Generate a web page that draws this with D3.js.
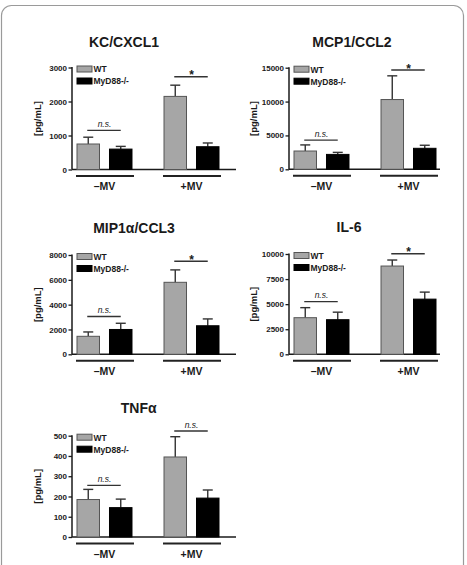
<!DOCTYPE html>
<html>
<head>
<meta charset="utf-8">
<script src="https://cdn.jsdelivr.net/npm/d3@7"></script>
<style>
  html, body { margin: 0; padding: 0; background: #fff; }
  svg { display: block; }
  text { font-family: "Liberation Sans", Arial, sans-serif; }
</style>
</head>
<body>
<script>
// ---------------- DATA ----------------
const groups = ["\u2013MV", "+MV"];
const series = ["WT", "MyD88-/-"];
const titles = ["KC/CXCL1", "MCP1/CCL2", "MIP1\u03B1/CCL3", "IL-6", "TNF\u03B1"];
const yLabel = "[pg/mL]";
// means per panel: [–MV, +MV]
const wtMean = [[750, 2150], [2700, 10300], [1450, 5800], [3650, 8800], [185, 395]];
const wtErr  = [[200, 330],  [900, 3500],   [350, 1000],  [1000, 600],  [50, 100]];
const koMean = [[600, 670],  [2200, 3100],  [2000, 2300], [3450, 5500], [145, 192]];
const koErr  = [[80, 110],   [300, 450],    [500, 550],   [750, 700],   [42, 40]];
const yTicks = [
  [0, 1000, 2000, 3000],
  [0, 5000, 10000, 15000],
  [0, 2000, 4000, 6000, 8000],
  [0, 2500, 5000, 7500, 10000],
  [0, 100, 200, 300, 400, 500]
];
const sigLabels = [["n.s.", "*"], ["n.s.", "*"], ["n.s.", "*"], ["n.s.", "*"], ["n.s.", "n.s."]];
const sigLevel  = [[1150, 2730], [4300, 14650], [3050, 7500], [5250, 10030], [255, 523]];

// ---------------- LAYOUT ----------------
const W = 467, H = 565;
const panels = [
  { ax: 72,  base: 169.5, top: 67.5,  xEnd: 236, tx: 124,   ty: 46.5, lx: 37 },
  { ax: 289, base: 169.3, top: 67.7,  xEnd: 440, tx: 352,   ty: 46.5, lx: 253 },
  { ax: 72,  base: 354.3, top: 255,   xEnd: 236, tx: 134,   ty: 233,  lx: 37 },
  { ax: 289, base: 354.3, top: 254,   xEnd: 440, tx: 349,   ty: 232,  lx: 253 },
  { ax: 72,  base: 537,   top: 435.7, xEnd: 236, tx: 138.7, ty: 412.7, lx: 37 }
];
const wtFill = "#a6a6a6", wtStroke = "#555", koFill = "#000";
const ink = "#1a1a1a";

const svg = d3.select("body").append("svg").attr("width", W).attr("height", H);

// frame
svg.append("rect")
  .attr("x", 1.5).attr("y", 5.5).attr("width", 462).attr("height", 620)
  .attr("rx", 10).attr("fill", "none").attr("stroke", "#9a9a9a").attr("stroke-width", 1.2);

panels.forEach((p, i) => {
  const g = svg.append("g");
  const yMax = yTicks[i][yTicks[i].length - 1];
  const y = d3.scaleLinear().domain([0, yMax]).range([p.base, p.top]);
  const x0 = d3.scaleBand().domain(groups).range([p.ax + 5, p.ax + 147]).paddingInner(0.368).paddingOuter(0);
  const x1 = d3.scaleBand().domain(series).range([0, x0.bandwidth()]).paddingInner(0.3077).paddingOuter(0);

  // title
  g.append("text").attr("x", p.tx).attr("y", p.ty).attr("text-anchor", "middle")
    .attr("font-size", 14).attr("font-weight", "bold").attr("fill", ink).text(titles[i]);

  // y label
  g.append("text")
    .attr("transform", `translate(${p.lx},${(p.base + p.top) / 2}) rotate(-90)`)
    .attr("text-anchor", "middle").attr("dominant-baseline", "central")
    .attr("font-size", 9.5).attr("font-weight", "bold").attr("fill", ink).text(yLabel);

  // y axis
  const yAxis = d3.axisLeft(y).tickValues(yTicks[i]).tickSize(3.5).tickPadding(1.5).tickFormat(d3.format("d"));
  const ga = g.append("g").attr("transform", `translate(${p.ax},0)`).call(yAxis);
  ga.select(".domain").attr("stroke", ink).attr("stroke-width", 1.5)
    .attr("d", `M0,${p.base}V${p.top - 0.5}`);
  ga.selectAll(".tick line").attr("stroke", ink).attr("stroke-width", 1.3);
  ga.selectAll(".tick text").attr("font-size", 8).attr("font-weight", "bold").attr("fill", ink)
    .attr("font-family", "Liberation Sans, Arial, sans-serif");

  // x baseline
  g.append("line").attr("x1", p.ax).attr("x2", p.xEnd).attr("y1", p.base).attr("y2", p.base)
    .attr("stroke", ink).attr("stroke-width", 1.5);

  // bars
  const rows = [];
  groups.forEach((grp, gi) => {
    rows.push({ grp, s: series[0], v: wtMean[i][gi], e: wtErr[i][gi] });
    rows.push({ grp, s: series[1], v: koMean[i][gi], e: koErr[i][gi] });
  });

  // error bars (upper only)
  rows.forEach(r => {
    const cx = x0(r.grp) + x1(r.s) + x1.bandwidth() / 2;
    g.append("line").attr("x1", cx).attr("x2", cx).attr("y1", y(r.v)).attr("y2", y(r.v + r.e))
      .attr("stroke", "#333").attr("stroke-width", 1.4);
    g.append("line").attr("x1", cx - 5).attr("x2", cx + 5).attr("y1", y(r.v + r.e)).attr("y2", y(r.v + r.e))
      .attr("stroke", "#333").attr("stroke-width", 1.4);
  });

  g.selectAll("rect.bar").data(rows).join("rect").attr("class", "bar")
    .attr("x", d => x0(d.grp) + x1(d.s))
    .attr("width", x1.bandwidth())
    .attr("y", d => y(d.v))
    .attr("height", d => p.base - y(d.v))
    .attr("fill", d => d.s === series[0] ? wtFill : koFill)
    .attr("stroke", d => d.s === series[0] ? wtStroke : koFill)
    .attr("stroke-width", 1);

  // significance annotations
  groups.forEach((grp, gi) => {
    const xa = x0(grp) + x1(series[0]) + x1.bandwidth() / 2;
    const xb = x0(grp) + x1(series[1]) + x1.bandwidth() / 2;
    const ly = y(sigLevel[i][gi]);
    g.append("line").attr("x1", xa - 1).attr("x2", xb).attr("y1", ly).attr("y2", ly)
      .attr("stroke", "#333").attr("stroke-width", 1.4);
    const lab = sigLabels[i][gi];
    if (lab === "*") {
      g.append("text").attr("x", (xa + xb) / 2).attr("y", ly + 2.5).attr("text-anchor", "middle")
        .attr("font-size", 12).attr("font-weight", "bold").attr("fill", ink).text(lab);
    } else {
      g.append("text").attr("x", (xa + xb) / 2).attr("y", ly - 3.5).attr("text-anchor", "middle")
        .attr("font-size", 8.5).attr("font-style", "italic").attr("fill", ink).text(lab);
    }
  });

  // group underline + labels
  groups.forEach(grp => {
    const gx = x0(grp);
    g.append("line").attr("x1", gx - 1).attr("x2", gx + x0.bandwidth() + 2)
      .attr("y1", p.base + 6.5).attr("y2", p.base + 6.5)
      .attr("stroke", "#222").attr("stroke-width", 2);
    g.append("text").attr("x", gx + x0.bandwidth() / 2).attr("y", p.base + 20.5)
      .attr("text-anchor", "middle").attr("font-size", 10.5).attr("font-weight", "bold")
      .attr("fill", ink).text(grp);
  });

  // legend
  series.forEach((s, si) => {
    const ly = p.top - 1.5 + si * 12;
    g.append("rect").attr("x", p.ax + 5).attr("y", ly).attr("width", 15).attr("height", 6)
      .attr("fill", si === 0 ? wtFill : koFill).attr("stroke", si === 0 ? wtStroke : koFill).attr("stroke-width", 1);
    g.append("text").attr("x", p.ax + 21.5).attr("y", ly + 6.3)
      .attr("font-size", 8.5).attr("font-weight", "bold").attr("fill", ink).text(s);
  });
});
</script>
</body>
</html>
